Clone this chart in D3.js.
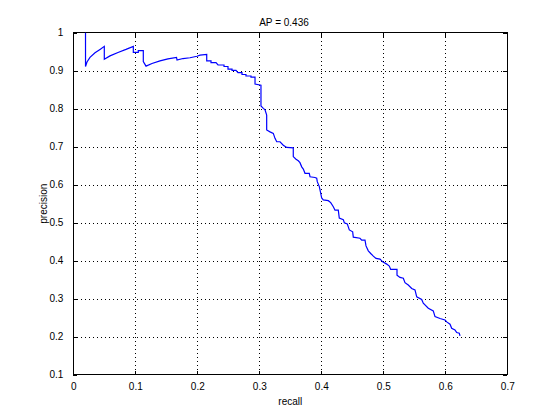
<!DOCTYPE html>
<html>
<head>
<meta charset="utf-8">
<script src="https://cdn.jsdelivr.net/npm/d3@7"></script>
<style>
  body { margin: 0; background: #fff; }
  svg { display: block; }
  text { font-family: "Liberation Sans", Arial, sans-serif; font-size: 10px; fill: #000; }
</style>
</head>
<body>
<div id="chart"></div>
<script>
/*
 * data
 */
const title = 'AP = 0.436'
const xLabel = 'recall'
const yLabel = 'precision'

const xTicks = [0, 0.1, 0.2, 0.3, 0.4, 0.5, 0.6, 0.7]
const yTicks = [0.1, 0.2, 0.3, 0.4, 0.5, 0.6, 0.7, 0.8, 0.9, 1]

const recall = [
  0.0197, 0.0197, 0.0221, 0.0269, 0.0350, 0.0431, 0.0500, 0.0500, 0.0592, 0.0721,
  0.0850, 0.0968, 0.0968, 0.1048, 0.1048, 0.1129, 0.1129, 0.1173, 0.1269, 0.1398,
  0.1527, 0.1665, 0.1673, 0.1769, 0.1882, 0.1995, 0.2044, 0.2152, 0.2152, 0.2221,
  0.2221, 0.2302, 0.2334, 0.2431, 0.2431, 0.2495, 0.2495, 0.2560, 0.2560, 0.2624,
  0.2656, 0.2721, 0.2721, 0.2785, 0.2785, 0.2866, 0.2866, 0.2931, 0.2931, 0.3027,
  0.3027, 0.3065, 0.3092, 0.3119, 0.3119, 0.3173, 0.3226, 0.3253, 0.3281, 0.3334,
  0.3387, 0.3442, 0.3548, 0.3548, 0.3592, 0.3629, 0.3656, 0.3684, 0.3710, 0.3737,
  0.3806, 0.3818, 0.3898, 0.3926, 0.3935, 0.3968, 0.3990, 0.4006, 0.4032, 0.4113,
  0.4152, 0.4194, 0.4221, 0.4274, 0.4290, 0.4355, 0.4371, 0.4419, 0.4452, 0.4506,
  0.4516, 0.4624, 0.4652, 0.4705, 0.4721, 0.4758, 0.4797, 0.4839, 0.4882, 0.4947,
  0.4990, 0.5055, 0.5097, 0.5119, 0.5221, 0.5221, 0.5269, 0.5323, 0.5350, 0.5403,
  0.5458, 0.5511, 0.5539, 0.5619, 0.5645, 0.5726, 0.5806, 0.5834, 0.5915, 0.5995,
  0.6023, 0.6076, 0.6103, 0.6156, 0.6184, 0.6226, 0.6237
]

const precision = [
  1.000, 0.911, 0.923, 0.935, 0.947, 0.956, 0.964, 0.930, 0.939, 0.948,
  0.956, 0.964, 0.948, 0.948, 0.953, 0.953, 0.924, 0.912, 0.919, 0.926,
  0.931, 0.935, 0.928, 0.932, 0.934, 0.938, 0.941, 0.943, 0.926, 0.926,
  0.921, 0.921, 0.915, 0.915, 0.911, 0.911, 0.904, 0.904, 0.901, 0.901,
  0.895, 0.895, 0.890, 0.890, 0.886, 0.886, 0.883, 0.883, 0.865, 0.862,
  0.807, 0.801, 0.797, 0.783, 0.744, 0.739, 0.735, 0.722, 0.713, 0.713,
  0.704, 0.698, 0.697, 0.674, 0.667, 0.663, 0.658, 0.647, 0.641, 0.630,
  0.630, 0.621, 0.619, 0.617, 0.608, 0.595, 0.578, 0.565, 0.560, 0.558,
  0.553, 0.542, 0.533, 0.533, 0.512, 0.508, 0.500, 0.497, 0.481, 0.476,
  0.462, 0.459, 0.454, 0.454, 0.439, 0.426, 0.419, 0.412, 0.406, 0.404,
  0.397, 0.391, 0.386, 0.377, 0.377, 0.362, 0.356, 0.354, 0.342, 0.336,
  0.327, 0.323, 0.305, 0.298, 0.288, 0.275, 0.268, 0.253, 0.248, 0.244,
  0.239, 0.233, 0.222, 0.218, 0.211, 0.209, 0.202
]

/*
 * layout (matlab default axes position)
 */
const W = 560
const H = 420
const margin = { left: 73.3, top: 32.7, right: 52.7, bottom: 45.3 }
const w = W - margin.left - margin.right
const h = H - margin.top - margin.bottom
const tickLen = 4

const svg = d3.select('#chart')
  .append('svg')
  .attr('width', W)
  .attr('height', H)

svg.append('rect')
  .attr('width', W)
  .attr('height', H)
  .style('fill', '#fff')

const g = svg.append('g')
  .attr('transform', `translate(${margin.left},${margin.top})`)

const x = d3.scaleLinear().domain([0, 0.7]).range([0, w])
const y = d3.scaleLinear().domain([0.1, 1]).range([h, 0])

// dotted grid
g.append('g')
  .selectAll('line')
  .data(xTicks.slice(1, -1))
  .enter()
  .append('line')
  .attr('x1', d => Math.round(x(d)) + 0.5)
  .attr('x2', d => Math.round(x(d)) + 0.5)
  .attr('y1', 0)
  .attr('y2', h)
  .style('stroke', '#000')
  .style('stroke-dasharray', '1,3')
  .style('shape-rendering', 'crispEdges')

g.append('g')
  .selectAll('line')
  .data(yTicks.slice(1, -1))
  .enter()
  .append('line')
  .attr('y1', d => Math.round(y(d)) + 0.5)
  .attr('y2', d => Math.round(y(d)) + 0.5)
  .attr('x1', 0)
  .attr('x2', w)
  .style('stroke', '#000')
  .style('stroke-dasharray', '1,3')
  .style('shape-rendering', 'crispEdges')

// axes, ticks pointing inward on all four sides
const fmt = d => d3.format('')(+d.toFixed(1))

const xBottom = g.append('g')
  .attr('transform', `translate(0,${h})`)
  .call(d3.axisBottom(x).tickValues(xTicks).tickSizeInner(-tickLen).tickSizeOuter(0).tickPadding(8).tickFormat(fmt))
const xTop = g.append('g')
  .call(d3.axisTop(x).tickValues(xTicks).tickSizeInner(-tickLen).tickSizeOuter(0).tickFormat(''))
const yLeft = g.append('g')
  .call(d3.axisLeft(y).tickValues(yTicks).tickSizeInner(-tickLen).tickSizeOuter(0).tickPadding(10).tickFormat(fmt))
const yRight = g.append('g')
  .attr('transform', `translate(${w},0)`)
  .call(d3.axisRight(y).tickValues(yTicks).tickSizeInner(-tickLen).tickSizeOuter(0).tickFormat(''))

;[xBottom, xTop, yLeft, yRight].forEach(a => {
  a.select('.domain').remove()
  a.selectAll('line').style('stroke', '#000').style('shape-rendering', 'crispEdges')
  a.selectAll('text').style('font-family', '"Liberation Sans", Arial, sans-serif').style('font-size', '10px')
})

// box
g.append('rect')
  .attr('x', 0)
  .attr('y', 0)
  .attr('width', w)
  .attr('height', h)
  .style('fill', 'none')
  .style('stroke', '#000')
  .style('shape-rendering', 'crispEdges')

// precision / recall curve
const points = recall.map((r, i) => [r, precision[i]])
g.append('path')
  .datum(points)
  .attr('d', d3.line().x(d => x(d[0])).y(d => y(d[1])))
  .style('fill', 'none')
  .style('stroke', '#0000ff')
  .style('stroke-width', 1.2)

// labels
svg.append('text')
  .attr('x', 284)
  .attr('y', 25.5)
  .attr('text-anchor', 'middle')
  .text(title)

svg.append('text')
  .attr('x', margin.left + w / 2)
  .attr('y', 405)
  .attr('text-anchor', 'middle')
  .text(xLabel)

svg.append('text')
  .attr('transform', `translate(47,${margin.top + h / 2}) rotate(-90)`)
  .attr('text-anchor', 'middle')
  .text(yLabel)
</script>
</body>
</html>
